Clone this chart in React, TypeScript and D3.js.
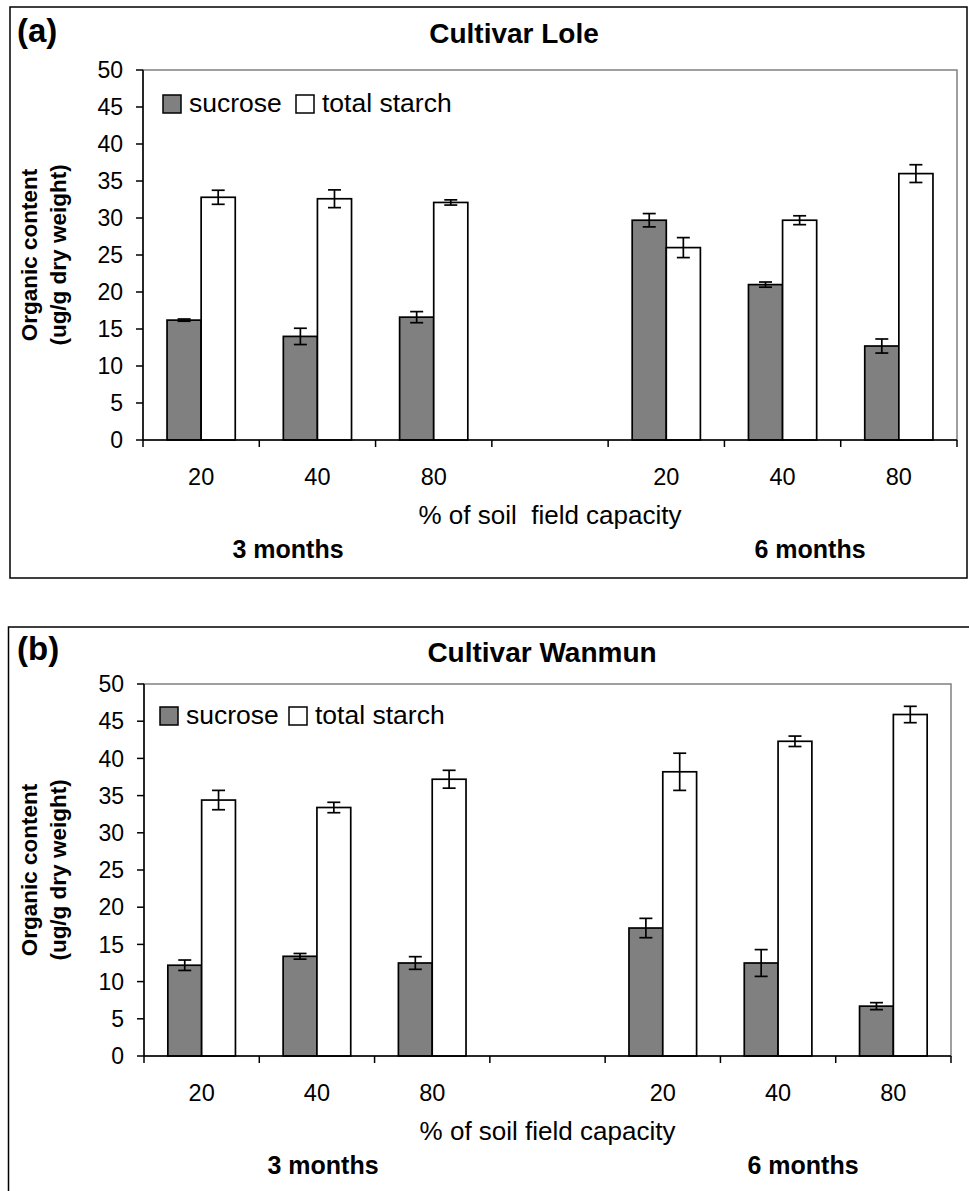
import React from 'react';
import * as d3 from 'd3';

// x slots: 3 months (20,40,80), empty gap, 6 months (20,40,80)
const slots = ['3m-20', '3m-40', '3m-80', 'gap', '6m-20', '6m-40', '6m-80'];
const capacityLabels = ['20', '40', '80', '', '20', '40', '80'];
const series = ['sucrose', 'total starch'];
const yTicks = [0, 5, 10, 15, 20, 25, 30, 35, 40, 45, 50];

const loleSucrose = [16.2, 14.0, 16.6, null, 29.7, 21.0, 12.7];
const loleSucroseErr = [0.15, 1.1, 0.75, null, 0.9, 0.35, 0.95];
const loleStarch = [32.8, 32.6, 32.1, null, 26.0, 29.7, 36.0];
const loleStarchErr = [0.95, 1.2, 0.35, null, 1.35, 0.6, 1.2];

const wanmunSucrose = [12.2, 13.4, 12.5, null, 17.2, 12.5, 6.7];
const wanmunSucroseErr = [0.7, 0.38, 0.85, null, 1.3, 1.8, 0.47];
const wanmunStarch = [34.4, 33.4, 37.2, null, 38.2, 42.3, 45.9];
const wanmunStarchErr = [1.3, 0.7, 1.2, null, 2.5, 0.7, 1.1];

const FONT = 'Liberation Sans, Arial, Helvetica, sans-serif';
const colors = { sucrose: '#808080', 'total starch': '#ffffff' };

type PanelCfg = {
  label: string;
  title: string;
  xTitle: string;
  box: { x: number; y: number; w: number; h: number };
  plot: { left: number; top: number; right: number; bottom: number };
  titleX: number;
  titleY: number;
  labelY: number;
  legend: { x: number; y: number; x2: number };
  monthsX: [number, number];
  sucrose: (number | null)[];
  sucroseErr: (number | null)[];
  starch: (number | null)[];
  starchErr: (number | null)[];
};

const panels: PanelCfg[] = [
  {
    label: '(a)',
    title: 'Cultivar Lole',
    xTitle: '% of soil  field capacity',
    box: { x: 10, y: 7, w: 957, h: 571 },
    plot: { left: 143, top: 70, right: 957, bottom: 440 },
    titleX: 514,
    titleY: 43,
    labelY: 42,
    legend: { x: 163, y: 95, x2: 296 },
    monthsX: [288, 810],
    sucrose: loleSucrose,
    sucroseErr: loleSucroseErr,
    starch: loleStarch,
    starchErr: loleStarchErr,
  },
  {
    label: '(b)',
    title: 'Cultivar Wanmun',
    xTitle: '% of soil field capacity',
    box: { x: 8.5, y: 627, w: 980, h: 600 },
    plot: { left: 144, top: 684, right: 951, bottom: 1056 },
    titleX: 542,
    titleY: 662,
    labelY: 660,
    legend: { x: 160, y: 707, x2: 289 },
    monthsX: [323, 803],
    sucrose: wanmunSucrose,
    sucroseErr: wanmunSucroseErr,
    starch: wanmunStarch,
    starchErr: wanmunStarchErr,
  },
];

const Panel = ({ cfg }: { cfg: PanelCfg }) => {
  const { plot } = cfg;
  const x0 = d3.scaleBand().domain(slots).range([plot.left, plot.right]).padding(0);
  const x1 = d3.scaleBand().domain(series).range([0, x0.bandwidth()]).paddingInner(0).paddingOuter(0.705);
  const y = d3.scaleLinear().domain([0, 50]).range([plot.bottom, plot.top]);

  const bars: { key: string; s: string; x: number; v: number; e: number }[] = [];
  slots.forEach((slot, i) => {
    const vals = [
      [cfg.sucrose[i], cfg.sucroseErr[i]],
      [cfg.starch[i], cfg.starchErr[i]],
    ];
    series.forEach((s, j) => {
      const v = vals[j][0];
      if (v == null) return;
      bars.push({ key: slot + s, s, x: (x0(slot) as number) + (x1(s) as number), v, e: vals[j][1] as number });
    });
  });

  const bw = x1.bandwidth();
  const cap = 6.5;
  const boundaries = slots.map((s) => x0(s) as number).concat([plot.right]);
  const midX = (plot.left + plot.right) / 2;
  const midY = (plot.top + plot.bottom) / 2;

  return (
    <g fontFamily={FONT} fill="#000">
      {/* outer frame */}
      <rect x={cfg.box.x} y={cfg.box.y} width={cfg.box.w} height={cfg.box.h} fill="#fff" stroke="#000" strokeWidth={1.5} />
      <text x={17} y={cfg.labelY} fontSize={33} fontWeight="bold">{cfg.label}</text>
      <text x={cfg.titleX} y={cfg.titleY} fontSize={28} fontWeight="bold" textAnchor="middle">{cfg.title}</text>

      {/* plot area border */}
      <rect x={plot.left} y={plot.top} width={plot.right - plot.left} height={plot.bottom - plot.top} fill="none" stroke="#808080" strokeWidth={1.5} />

      {/* bars */}
      {bars.map((b) => (
        <rect key={b.key} x={b.x} y={y(b.v)} width={bw} height={y(0) - y(b.v)}
          fill={colors[b.s as keyof typeof colors]} stroke="#000" strokeWidth={1.7} />
      ))}
      {/* error bars */}
      {bars.map((b) => {
        const cx = b.x + bw / 2;
        return (
          <g key={'e' + b.key} stroke="#000" strokeWidth={1.7}>
            <line x1={cx} x2={cx} y1={y(b.v - b.e)} y2={y(b.v + b.e)} />
            <line x1={cx - cap} x2={cx + cap} y1={y(b.v + b.e)} y2={y(b.v + b.e)} />
            <line x1={cx - cap} x2={cx + cap} y1={y(b.v - b.e)} y2={y(b.v - b.e)} />
          </g>
        );
      })}

      {/* y axis */}
      <line x1={plot.left} x2={plot.left} y1={plot.top} y2={plot.bottom} stroke="#000" strokeWidth={1.5} />
      {yTicks.map((t) => (
        <g key={'yt' + t}>
          <line x1={plot.left - 7} x2={plot.left} y1={y(t)} y2={y(t)} stroke="#000" strokeWidth={1.5} />
          <text x={plot.left - 20} y={y(t)} dy="0.36em" fontSize={23} textAnchor="end">{t}</text>
        </g>
      ))}

      {/* x axis */}
      <line x1={plot.left} x2={plot.right} y1={plot.bottom} y2={plot.bottom} stroke="#000" strokeWidth={1.5} />
      {boundaries.map((bx, i) => (
        <line key={'xt' + i} x1={bx} x2={bx} y1={plot.bottom} y2={plot.bottom + 7} stroke="#000" strokeWidth={1.5} />
      ))}
      {slots.map((s, i) => (
        <text key={'xl' + s} x={(x0(s) as number) + x0.bandwidth() / 2} y={plot.bottom + 45} fontSize={23.5} textAnchor="middle">
          {capacityLabels[i]}
        </text>
      ))}
      <text x={midX} y={plot.bottom + 84} fontSize={26} textAnchor="middle" style={{ whiteSpace: 'pre' }}>{cfg.xTitle}</text>
      <text x={cfg.monthsX[0]} y={plot.bottom + 118} fontSize={25} fontWeight="bold" textAnchor="middle">3 months</text>
      <text x={cfg.monthsX[1]} y={plot.bottom + 118} fontSize={25} fontWeight="bold" textAnchor="middle">6 months</text>

      {/* y axis title */}
      <g transform={`translate(37,${midY}) rotate(-90)`}>
        <text x={0} y={0} fontSize={22.5} fontWeight="bold" textAnchor="middle">Organic content</text>
      </g>
      <g transform={`translate(66,${midY}) rotate(-90)`}>
        <text x={0} y={0} fontSize={22.5} fontWeight="bold" textAnchor="middle">(ug/g dry weight)</text>
      </g>

      {/* legend */}
      {series.map((s, i) => {
        const lx = i === 0 ? cfg.legend.x : cfg.legend.x2;
        return (
          <g key={'lg' + s}>
            <rect x={lx} y={cfg.legend.y} width={18} height={18} fill={colors[s as keyof typeof colors]} stroke="#000" strokeWidth={1.5} />
            <text x={lx + 26} y={cfg.legend.y + 17} fontSize={26.5}>{s}</text>
          </g>
        );
      })}
    </g>
  );
};

export default function App() {
  return (
    <svg width={969} height={1191} style={{ position: 'absolute', left: 0, top: 0, background: '#fff' }}>
      {panels.map((p) => (
        <Panel key={p.label} cfg={p} />
      ))}
    </svg>
  );
}
